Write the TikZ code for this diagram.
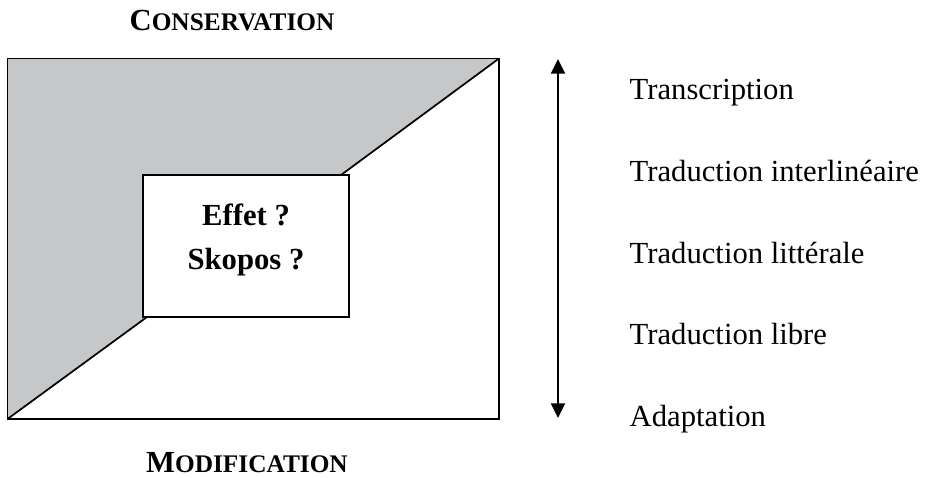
\documentclass[tikz,border=0pt]{standalone}
\usepackage{fontspec}
\setmainfont{Liberation Serif}
\usetikzlibrary{arrows.meta}

\definecolor{shadegray}{RGB}{198,199,201}
\newcommand{\bigsize}{\fontsize{23}{28}\selectfont}
\newcommand{\smallcap}{\fontsize{19}{22}\selectfont}

\tikzset{
  frame/.style={line width=1.3pt, line join=miter},
  label/.style={anchor=base west, font=\bigsize},
  heading/.style={anchor=base, font=\bigsize\bfseries},
}

\begin{document}
\begin{tikzpicture}[x=0.75pt,y=-0.75pt]
\useasboundingbox (0,0) rectangle (926,478);

% corners of the big frame
\coordinate (tl) at (7.5,58.5);
\coordinate (tr) at (499,58.5);
\coordinate (bl) at (7.5,419);
\coordinate (br) at (499,419);

% inner box
\coordinate (itl) at (143,175);
\coordinate (itr) at (349,175);
\coordinate (ibl) at (143,317);
\coordinate (ibr) at (349,317);
\coordinate (itd) at (341,175);
\coordinate (ibd) at (147,317);

\fill[shadegray] (tl) -- (tr) -- (itd) -- (itl) -- (ibl) -- (ibd) -- (bl) -- cycle;
\draw[frame] (tl) rectangle (br);
\draw[frame] (tr) -- (itd);
\draw[frame] (bl) -- (ibd);
\draw[frame, fill=white] (itl) rectangle (ibr);
\node[font=\fontsize{23}{33}\selectfont\bfseries, align=center] (goal) at (246,240) {Effet ?\\Skopos ?};

\node[heading] (cons) at (232,31) {C{\smallcap ONSERVATION}};
\node[heading] (modif) at (247,472) {M{\smallcap ODIFICATION}};

% scale on the right
\coordinate (up) at (558,59);
\coordinate (down) at (558,418);
\draw[line width=1.4pt, {Triangle[width=10.5pt,length=11pt]}-{Triangle[width=10.5pt,length=11pt]}] (up) -- (down);

\node[label] (t1) at (625,100) {Transcription};
\node[label] (t2) at (625,181.5) {Traduction interlinéaire};
\node[label] (t3) at (625,263) {Traduction littérale};
\node[label] (t4) at (625,344.5) {Traduction libre};
\node[label] (t5) at (625,426) {Adaptation};
\end{tikzpicture}
\end{document}
